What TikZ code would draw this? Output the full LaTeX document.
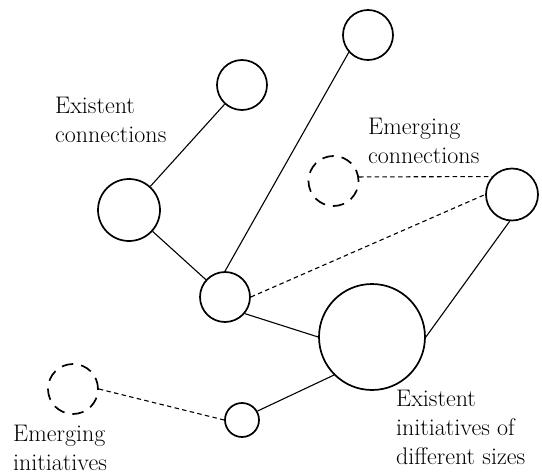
\documentclass[tikz,border=0pt]{standalone}
\usepackage{tikz}
\begin{document}
\begin{tikzpicture}[x=1pt,y=-1pt,
  init/.style={circle,draw,line width=1.7pt,inner sep=0pt},
  emerge/.style={init,dash pattern=on 11.5pt off 8pt},
  conn/.style={line width=1.1pt},
  econn/.style={line width=1.1pt,dash pattern=on 4.5pt off 3.3pt},
  lbl/.style={align=left,anchor=north west,inner sep=0pt,font=\fontsize{24}{29}\selectfont}]
\useasboundingbox (0,0) rectangle (542,474);
\node[init,minimum size=50pt] (tc) at (368,35) {};
\node[init,minimum size=50pt] (ec) at (242,85) {};
\node[init,minimum size=62pt] (lc) at (129,210) {};
\node[emerge,minimum size=50pt] (dc) at (333.5,181) {};
\node[init,minimum size=52pt] (rc) at (512,194.5) {};
\node[init,minimum size=50pt] (mc) at (225,297) {};
\node[init,minimum size=106pt] (bc) at (372,337) {};
\node[emerge,minimum size=50pt] (dl) at (73,389) {};
\node[init,minimum size=34pt] (sc) at (242,420) {};
% existent connections
\draw[conn] (ec) -- (lc);
\draw[conn] (lc) -- (mc);
\draw[conn] (tc.222) -- (mc.north);
\draw[conn] (mc.-40) -- (bc.west);
\draw[conn] (bc.east) -- (rc.265);
\draw[conn] (sc.30) -- (bc.225);
% emerging connections
\draw[econn] (dc.9) -- (rc.138);
\draw[econn] (mc.east) -- (rc.west);
\draw[econn] (dl.east) -- (sc.west);
% labels
\node[lbl] (t1) at (55,97) {Existent\\connections};
\node[lbl] (t2) at (368,118) {Emerging\\connections};
\node[lbl] (t3) at (13,425) {Emerging\\initiatives};
\node[lbl] (t4) at (396,390) {Existent\\initiatives of\\different sizes};
\end{tikzpicture}
\end{document}
